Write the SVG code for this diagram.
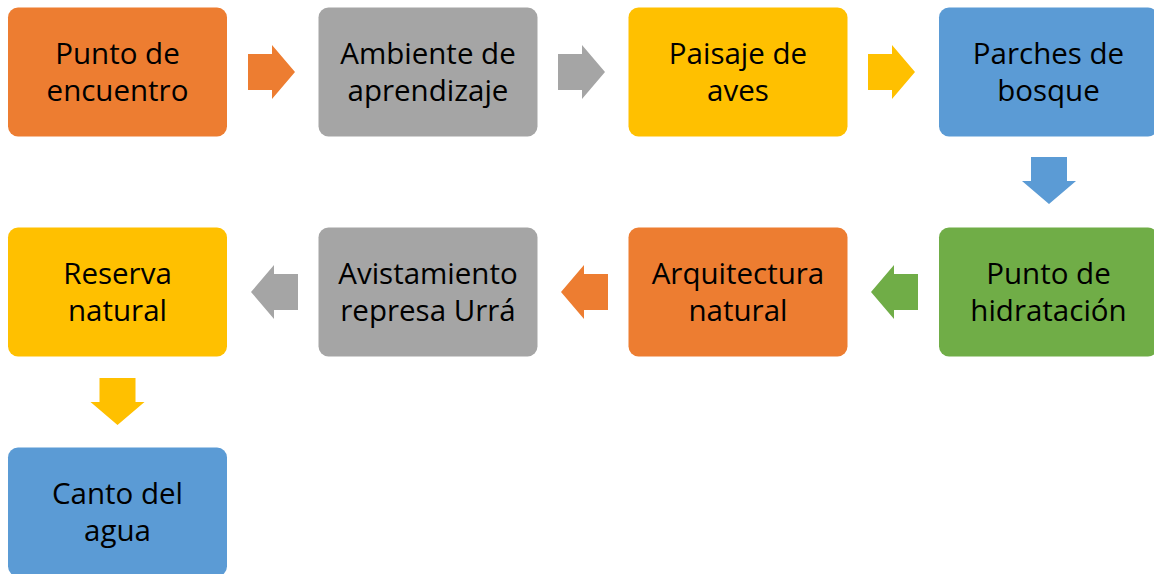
<svg xmlns="http://www.w3.org/2000/svg" xmlns:xlink="http://www.w3.org/1999/xlink" width="1154" height="574" viewBox="0 0 1154 574">
<style>
.box{stroke:none}
.t{font-family:"Open Sans","Liberation Sans",sans-serif;font-size:29.5px;fill:#000;text-anchor:middle}
.orange{fill:#ED7D31}.gray{fill:#A5A5A5}.yellow{fill:#FFC000}.blue{fill:#5B9BD5}.green{fill:#70AD47}
</style>
<defs>
<path id="arr" d="M0,-18 H24 V-27 L47,0 L24,27 V18 H0 Z"/>
</defs>
<rect width="1154" height="574" fill="#fff"/>
<g id="connectors">
<use xlink:href="#arr" class="orange" transform="translate(248,72)"/>
<use xlink:href="#arr" class="gray" transform="translate(558,72)"/>
<use xlink:href="#arr" class="yellow" transform="translate(868,72)"/>
<use xlink:href="#arr" class="blue" transform="translate(1049,157) rotate(90)"/>
<use xlink:href="#arr" class="green" transform="translate(918,292) rotate(180)"/>
<use xlink:href="#arr" class="orange" transform="translate(608,292) rotate(180)"/>
<use xlink:href="#arr" class="gray" transform="translate(298,292) rotate(180)"/>
<use xlink:href="#arr" class="yellow" transform="translate(117.5,378) rotate(90)"/>
</g>
<g id="n1"><rect class="box orange" x="8" y="7.5" width="219" height="129" rx="10"/><text class="t"><tspan x="117.5" y="64">Punto de</tspan><tspan x="117.5" y="101">encuentro</tspan></text></g>
<g id="n2"><rect class="box gray" x="318.5" y="7.5" width="219" height="129" rx="10"/><text class="t"><tspan x="428" y="64">Ambiente de</tspan><tspan x="428" y="101">aprendizaje</tspan></text></g>
<g id="n3"><rect class="box yellow" x="628.5" y="7.5" width="219" height="129" rx="10"/><text class="t"><tspan x="738" y="64">Paisaje de</tspan><tspan x="738" y="101">aves</tspan></text></g>
<g id="n4"><rect class="box blue" x="939" y="7.5" width="219" height="129" rx="10"/><text class="t"><tspan x="1048.5" y="64">Parches de</tspan><tspan x="1048.5" y="101">bosque</tspan></text></g>
<g id="n5"><rect class="box green" x="939" y="227.5" width="219" height="129" rx="10"/><text class="t"><tspan x="1048.5" y="284">Punto de</tspan><tspan x="1048.5" y="321">hidratación</tspan></text></g>
<g id="n6"><rect class="box orange" x="628.5" y="227.5" width="219" height="129" rx="10"/><text class="t"><tspan x="738" y="284">Arquitectura</tspan><tspan x="738" y="321">natural</tspan></text></g>
<g id="n7"><rect class="box gray" x="318.5" y="227.5" width="219" height="129" rx="10"/><text class="t"><tspan x="428" y="284">Avistamiento</tspan><tspan x="428" y="321">represa Urrá</tspan></text></g>
<g id="n8"><rect class="box yellow" x="8" y="227.5" width="219" height="129" rx="10"/><text class="t"><tspan x="117.5" y="284">Reserva</tspan><tspan x="117.5" y="321">natural</tspan></text></g>
<g id="n9"><rect class="box blue" x="8" y="447.5" width="219" height="129" rx="10"/><text class="t"><tspan x="117.5" y="504">Canto del</tspan><tspan x="117.5" y="541">agua</tspan></text></g>
</svg>
